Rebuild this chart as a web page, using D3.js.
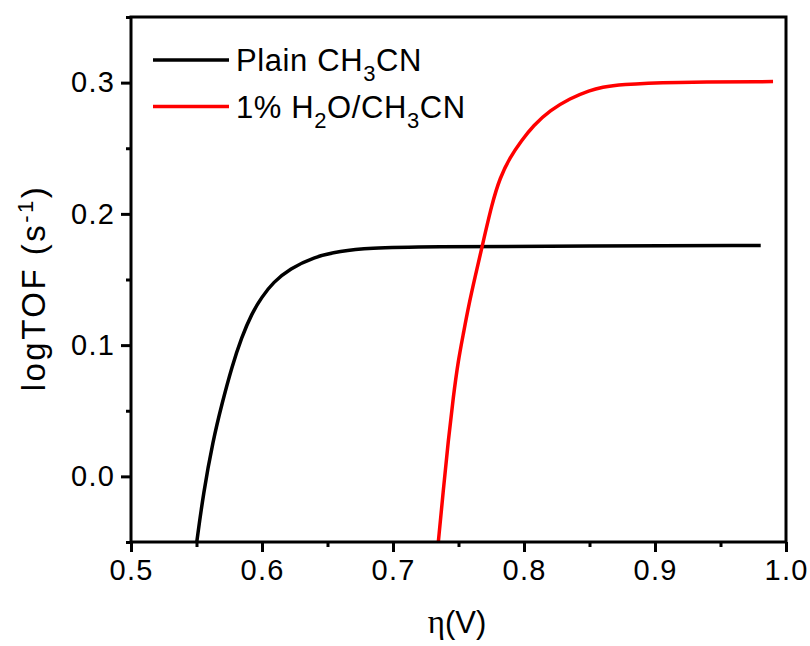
<!DOCTYPE html>
<html>
<head>
<meta charset="utf-8">
<script src="https://cdn.jsdelivr.net/npm/d3@7/dist/d3.min.js"></script>
<style>
  body { margin: 0; background: #fff; }
  svg { display: block; font-family: "Liberation Sans", Arial, sans-serif; }
</style>
</head>
<body>
<svg id="chart" width="810" height="646"></svg>
<script>
// Data
const plainX = [0.5502, 0.5552, 0.5626, 0.5695, 0.5769, 0.5845, 0.5921, 0.5998, 0.6086, 0.6214, 0.6392, 0.6595, 0.6824, 0.7206, 0.8500, 0.9807];
const plainY = [-0.05, -0.0132, 0.0274, 0.0556, 0.0832, 0.1061, 0.1239, 0.1366, 0.1480, 0.1582, 0.1670, 0.1717, 0.1740, 0.1751, 0.1755, 0.1759];
const waterX = [0.7346, 0.7384, 0.7422, 0.7460, 0.7498, 0.7537, 0.7575, 0.7626, 0.7682, 0.7756, 0.7817, 0.7893, 0.7982, 0.8071, 0.8198, 0.8351, 0.8504, 0.8595, 0.8733, 0.9115, 0.9901];
const waterY = [-0.05, -0.0107, 0.0274, 0.0604, 0.0883, 0.1086, 0.1289, 0.1517, 0.1759, 0.2079, 0.2277, 0.2430, 0.2559, 0.2673, 0.2788, 0.2880, 0.2942, 0.2965, 0.2986, 0.3003, 0.3008];
const xTicks = [0.5, 0.6, 0.7, 0.8, 0.9, 1.0];
const xMinor = [0.55, 0.65, 0.75, 0.85, 0.95];
const yTicks = [0.0, 0.1, 0.2, 0.3];
const yMinor = [-0.05, 0.05, 0.15, 0.25, 0.35];

const svg = d3.select("#chart");
const L = 131, R = 786, T = 17, B = 542;
const x = d3.scaleLinear().domain([0.5, 1.0]).range([L, R]);
const y = d3.scaleLinear().domain([-0.05, 0.35]).range([B, T]);

const series = [
  { xs: plainX, ys: plainY, color: "#000000" },
  { xs: waterX, ys: waterY, color: "#ff0000" }
];

const line = d3.line().x(d => x(d[0])).y(d => y(d[1])).curve(d3.curveBasis);
svg.append("clipPath").attr("id", "clip").append("rect")
  .attr("x", L).attr("y", T).attr("width", R - L).attr("height", B - T);

series.forEach(s => {
  svg.append("path")
    .attr("d", line(s.xs.map((v, i) => [v, s.ys[i]])))
    .attr("fill", "none").attr("stroke", s.color).attr("stroke-width", 3.5)
    .attr("stroke-linejoin", "round")
    .attr("clip-path", "url(#clip)");
});

// Frame
svg.append("rect").attr("x", L).attr("y", T).attr("width", R - L).attr("height", B - T)
  .attr("fill", "none").attr("stroke", "#000").attr("stroke-width", 3);

// X axis
svg.append("g").attr("transform", `translate(0,${B})`)
  .call(d3.axisBottom(x).tickValues(xTicks).tickSize(10).tickPadding(7).tickFormat(d3.format(".1f")));
svg.append("g").attr("transform", `translate(0,${B})`)
  .call(d3.axisBottom(x).tickValues(xMinor).tickSize(5).tickFormat(""));
// Y axis
svg.append("g").attr("transform", `translate(${L},0)`)
  .call(d3.axisLeft(y).tickValues(yTicks).tickSize(10).tickPadding(6).tickFormat(d3.format(".1f")));
svg.append("g").attr("transform", `translate(${L},0)`)
  .call(d3.axisLeft(y).tickValues(yMinor).tickSize(5).tickFormat(""));

svg.selectAll(".domain").remove();
svg.selectAll(".tick line").attr("stroke", "#000").attr("stroke-width", 3);
svg.selectAll(".tick text").attr("font-size", 29).attr("fill", "#000")
  .attr("letter-spacing", 1.2)
  .attr("font-family", "Liberation Sans, Arial, sans-serif");

// Axis titles
const xt = svg.append("text").attr("x", 457).attr("y", 633).attr("text-anchor", "middle")
  .attr("font-size", 31);
xt.append("tspan").attr("font-family", "Liberation Serif, Times New Roman, serif").attr("font-size", 33).text("η");
xt.append("tspan").text("(V)");

const yt = svg.append("text").attr("transform", `translate(45,288) rotate(-90)`)
  .attr("text-anchor", "middle").attr("font-size", 33).attr("letter-spacing", 2.5);
yt.append("tspan").text("logTOF (s");
yt.append("tspan").attr("dy", -12).attr("font-size", 22).text("-1");
yt.append("tspan").attr("dy", 12).text(")");

// Legend
const leg = [
  { color: "#000000", parts: [["Plain CH", 0], ["3", 1], ["CN", 0]] },
  { color: "#ff0000", parts: [["1% H", 0], ["2", 1], ["O/CH", 0], ["3", 1], ["CN", 0]] }
];
leg.forEach((l, i) => {
  const ly = 60 + i * 46.5;
  svg.append("line").attr("x1", 153).attr("x2", 229).attr("y1", ly).attr("y2", ly)
    .attr("stroke", l.color).attr("stroke-width", 3.5);
  const t = svg.append("text").attr("x", 236).attr("y", ly + 11).attr("font-size", 31)
    .attr("letter-spacing", 0.6);
  let prevSub = 0;
  l.parts.forEach(p => {
    const sub = p[1];
    const dy = (sub - prevSub) * 10;
    t.append("tspan").attr("dy", dy).attr("font-size", sub ? 22 : 31).text(p[0]);
    prevSub = sub;
  });
});
</script>
</body>
</html>
